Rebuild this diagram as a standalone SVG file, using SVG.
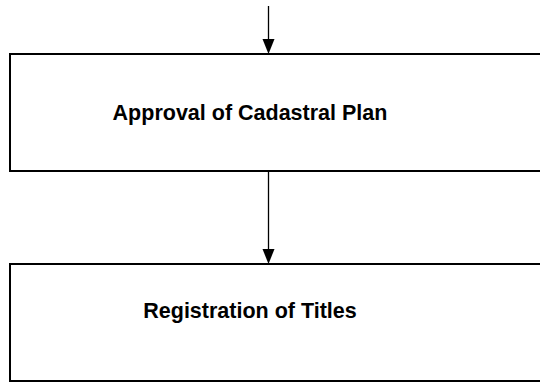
<svg xmlns="http://www.w3.org/2000/svg" width="540" height="383" viewBox="0 0 540 383">
  <style>
    .box { fill: #ffffff; stroke: #000000; stroke-width: 2; }
    .label { font-family: "Liberation Sans", Arial, sans-serif; font-weight: bold; font-size: 21.5px; fill: #000000; text-anchor: middle; }
    .conn { stroke: #000000; stroke-width: 1.3; fill: none; }
  </style>
  <rect width="540" height="383" fill="#ffffff"/>

  <g id="step-approval">
    <rect class="box" x="10" y="54" width="540" height="117"/>
    <text class="label" x="250" y="120">Approval of Cadastral Plan</text>
  </g>

  <g id="step-registration">
    <rect class="box" x="10" y="264" width="540" height="117"/>
    <text class="label" x="250" y="318">Registration of Titles</text>
  </g>

  <g id="connectors">
    <line class="conn" x1="268.5" y1="6" x2="268.5" y2="39" />
    <path d="M262.5,39 L274.5,39 L268.5,54 Z" fill="#000000"/>
    <line class="conn" x1="268.5" y1="171" x2="268.5" y2="249" />
    <path d="M262.5,249 L274.5,249 L268.5,264 Z" fill="#000000"/>
  </g>
</svg>
